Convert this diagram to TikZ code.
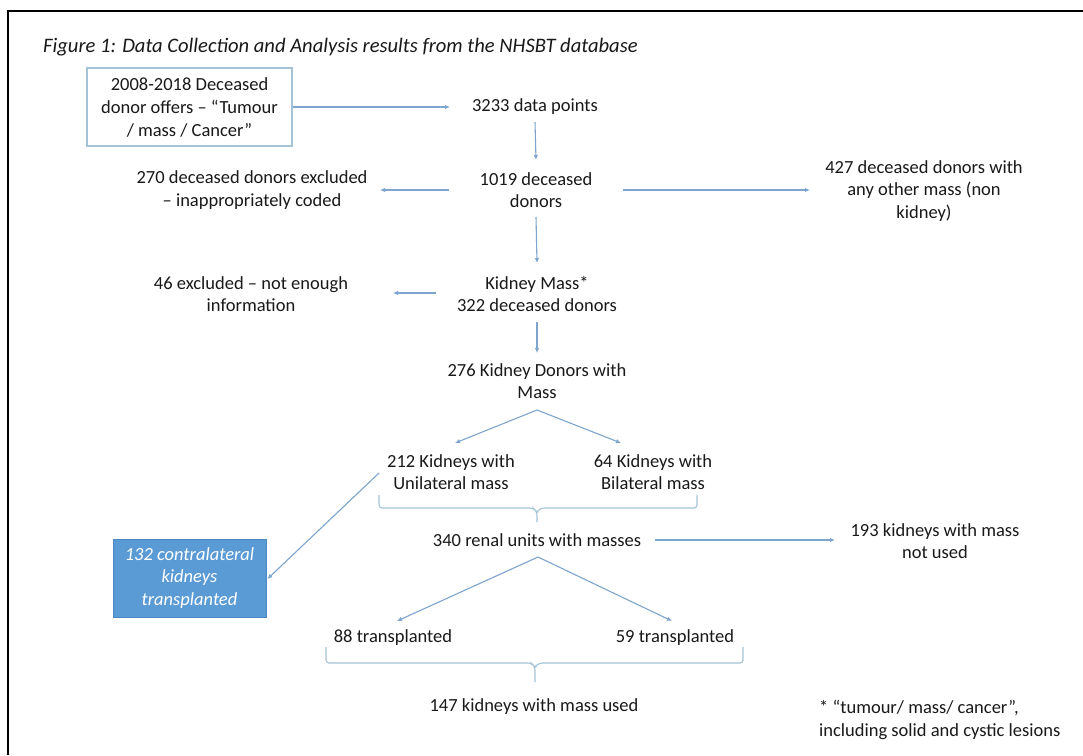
\documentclass[tikz,border=0pt]{standalone}
\usepackage{fontspec}
\setmainfont{Carlito}
\usetikzlibrary{arrows.meta,calc}
\definecolor{lnc}{RGB}{125,165,205}
\definecolor{boxc}{RGB}{165,195,215}
\definecolor{bluefill}{RGB}{91,155,213}
\definecolor{bluedraw}{RGB}{75,135,195}
\definecolor{txt}{RGB}{25,25,25}
\tikzset{
  lbl/.style={text=txt, align=center, inner sep=0pt, font=\fontsize{18.5}{22.7}\selectfont},
  arr/.style={draw=lnc, line width=1.1pt, -{Latex[length=5pt,width=4.5pt]}},
  brc/.style={draw=boxc, line width=1.1pt, rounded corners=3pt},
}
\begin{document}
\begin{tikzpicture}[x=1pt,y=-1pt]
\useasboundingbox (0,0) rectangle (1083,755);
\fill[white] (0,0) rectangle (1083,755);
% frame
\draw[black, line width=1.4pt] (1083,11) -- (8,11) -- (8,755);
% title
\node[lbl, anchor=west, font=\fontsize{20.6}{24}\selectfont\itshape] (title) at (43,47)
  {Figure 1: Data Collection and Analysis results from the NHSBT database};
% nodes
\node[lbl, draw=boxc, line width=1.1pt, minimum width=205pt, minimum height=78pt,
  font=\fontsize{18.5}{23}\selectfont] (src) at (189.5,107)
  {2008-2018 Deceased\\donor offers – “Tumour\\/ mass / Cancer”};
\node[lbl] (n3233) at (535,107) {3233 data points};
\node[lbl] (n1019) at (536,190) {1019 deceased\\donors};
\node[lbl] (n270) at (252,190) {270 deceased donors excluded\\– inappropriately coded};
\node[lbl] (n427) at (924,191) {427 deceased donors with\\any other mass (non\\kidney)};
\node[lbl] (nKM) at (537,294) {Kidney Mass*\\322 deceased donors};
\node[lbl] (n46) at (251,294) {46 excluded – not enough\\information};
\node[lbl] (n276) at (537,381) {276 Kidney Donors with\\Mass};
\node[lbl] (n212) at (451,472) {212 Kidneys with\\Unilateral mass};
\node[lbl] (n64) at (653,472) {64 Kidneys with\\Bilateral mass};
\node[lbl] (n340) at (537,540) {340 renal units with masses};
\node[lbl] (n193) at (935,541) {193 kidneys with mass\\not used};
\node[lbl, draw=bluedraw, fill=bluefill, text=white, line width=0.8pt,
  minimum width=153pt, minimum height=78pt,
  font=\fontsize{18.5}{22.5}\selectfont\itshape] (blue) at (189.5,578)
  {132 contralateral\\kidneys\\transplanted};
\node[lbl] (n88) at (393,638) {88 transplanted};
\node[lbl] (n59) at (675,638) {59 transplanted};
\node[lbl] (n147) at (534,707) {147 kidneys with mass used};
\node[lbl, align=left, anchor=west] (foot) at (819,720)
  {* “tumour/ mass/ cancer”,\\including solid and cystic lesions};
% connectors
\draw[arr] (src.east) -- ($(n3233.center)+(-85,0)$);
\draw[arr] ($(n3233.center)+(0,15)$) -- ($(n1019.center)+(0,-30)$);
\draw[arr] ($(n1019.center)+(-87,0)$) -- ($(n270.center)+(128,0)$);
\draw[arr] ($(n1019.center)+(87,0)$) -- ($(n1019.center -| n427.center)+(-114,0)$);
\draw[arr] ($(n1019.center)+(0,27)$) -- ($(nKM.center)+(0,-31)$);
\draw[arr] ($(nKM.center)+(-101,-1)$) -- ($(n46.center)+(142,-1)$);
\draw[arr] ($(nKM.center)+(0,28)$) -- ($(n276.center)+(0,-28)$);
\coordinate (ap1) at ($(n276.center)+(0,29)$);
\draw[arr] (ap1) -- ($(n212.center)+(4,-29)$);
\draw[arr] (ap1) -- ($(n64.center)+(-32,-29)$);
\draw[arr] ($(n212.center)+(-72,1)$) -- ($(blue.east)+(1,1)$);
\draw[arr] ($(n340.center)+(118,0)$) -- ($(n340.center -| n193.center)+(-100,0)$);
\coordinate (ap2) at ($(n340.center)+(1,17)$);
\draw[arr] (ap2) -- ($(n88.center)+(4,-17)$);
\draw[arr] (ap2) -- ($(n59.center)+(-3,-17)$);
% braces
\coordinate (b1) at (537,522);
\draw[brc] (379,495) -- (379,508) -- (533,508) -- (537,512) -- (b1);
\draw[brc] (697,495) -- (697,508) -- (541,508) -- (537,512);
\coordinate (b2) at (535,682);
\draw[brc] (326,647) -- (326,663) -- (531,663) -- (535,667) -- (b2);
\draw[brc] (743,647) -- (743,663) -- (539,663) -- (535,667);
\end{tikzpicture}
\end{document}
